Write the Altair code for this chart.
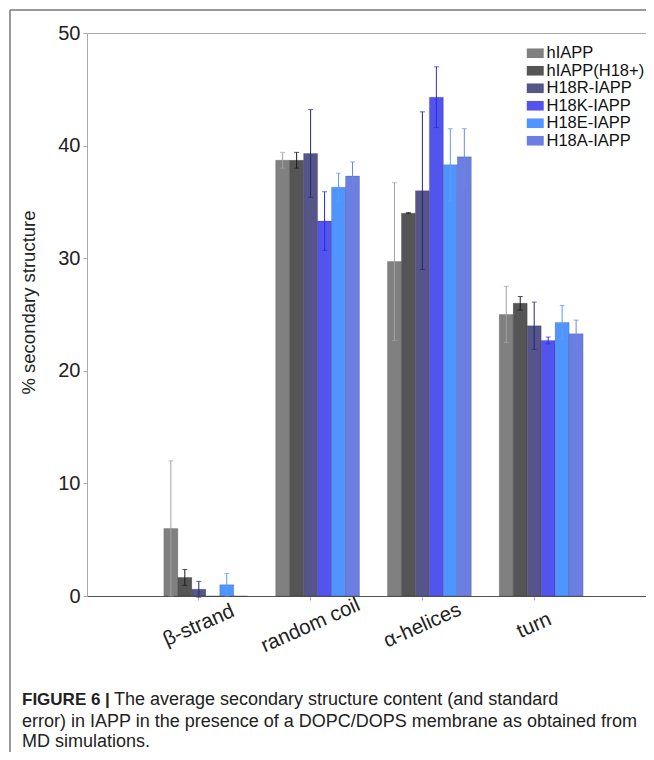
import altair as alt
import pandas as pd

# ---- data ----
categories = ["β-strand", "random coil", "α-helices", "turn"]
series = ["hIAPP", "hIAPP(H18+)", "H18R-IAPP", "H18K-IAPP", "H18E-IAPP", "H18A-IAPP"]

mean_hiapp = [6.0, 38.7, 29.7, 25.0]
mean_h18p = [1.65, 38.7, 34.0, 26.0]
mean_h18r = [0.6, 39.3, 36.0, 24.0]
mean_h18k = [0.0, 33.3, 44.3, 22.7]
mean_h18e = [1.0, 36.3, 38.3, 24.3]
mean_h18a = [0.0, 37.3, 39.0, 23.3]

err_hiapp = [6.0, 0.7, 7.0, 2.5]
err_h18p = [0.7, 0.7, 0.05, 0.6]
err_h18r = [0.7, 3.9, 7.0, 2.1]
err_h18k = [0.0, 2.6, 2.7, 0.3]
err_h18e = [1.0, 1.25, 3.2, 1.5]
err_h18a = [0.0, 1.25, 2.5, 1.2]

caption_bold = "FIGURE 6 |"
caption_1 = "The average secondary structure content (and standard"
caption_2 = "error) in IAPP in the presence of a DOPC/DOPS membrane as obtained from"
caption_3 = "MD simulations."

y_title = "% secondary structure"

# ---- styles ----
bar_colors = ["#808080", "#555555", "#55558a", "#5353ee", "#5094ff", "#6b7fe2"]
err_colors = ["#a0a0a0", "#1a1a1a", "#26267a", "#2b2bd8", "#5a9cff", "#6f86e6"]
FONT = "Liberation Sans"

means = [mean_hiapp, mean_h18p, mean_h18r, mean_h18k, mean_h18e, mean_h18a]
errs = [err_hiapp, err_h18p, err_h18r, err_h18k, err_h18e, err_h18a]
rows = []
for s, mv, ev in zip(series, means, errs):
    for c, m, e in zip(categories, mv, ev):
        rows.append({"category": c, "series": s, "value": m, "err": e})
df = pd.DataFrame(rows)

x_enc = alt.X(
    "category:N",
    scale=alt.Scale(domain=categories, paddingInner=0, paddingOuter=0.5),
    axis=alt.Axis(
        title=None, labelAngle=336, labelAlign="center", labelBaseline="middle",
        labelPadding=25, labelFontSize=20.5, labelFont=FONT, labelColor="#222",
        tickSize=4, tickColor="#aaa", domainColor="#555", domainWidth=1,
    ),
)
xo_enc = alt.XOffset(
    "series:N",
    scale=alt.Scale(domain=series, paddingInner=0, paddingOuter=1, align=0.75),
)
y_scale = alt.Scale(domain=[0, 50])
y_axis = alt.Axis(
    title=y_title, values=[0, 10, 20, 30, 40, 50], grid=False,
    labelFontSize=20, labelFont=FONT, labelColor="#222", labelPadding=3,
    tickSize=4, tickColor="#aaa", domainColor="#aaa",
    titleFontSize=18.5, titleFont=FONT, titleFontWeight="normal", titleColor="#222",
    titleX=-59, titleY=269, titleAngle=270, titleAlign="center", titleBaseline="middle",
)

base = alt.Chart(df)

bars = base.mark_bar(stroke="#000", strokeOpacity=0.2, strokeWidth=0.8).encode(
    x=x_enc,
    xOffset=xo_enc,
    y=alt.Y("value:Q", scale=y_scale, axis=y_axis, title=y_title),
    color=alt.Color(
        "series:N",
        scale=alt.Scale(domain=series, range=bar_colors),
        legend=alt.Legend(
            orient="none", legendX=440, legendY=12, title=None,
            symbolType="M-1.06,-0.6L1.06,-0.6L1.06,0.6L-1.06,0.6Z", symbolSize=256,
            symbolStrokeWidth=0, symbolOpacity=1,
            labelFontSize=16.5, labelFont=FONT, labelColor="#111", labelLimit=200,
            rowPadding=0.5, padding=0, labelOffset=3,
        ),
    ),
)

err_base = base.transform_filter("datum.err > 0").transform_calculate(
    lo="datum.value - datum.err", hi="datum.value + datum.err", s2="datum.series"
)
err_color = alt.Color("s2:N", scale=alt.Scale(domain=series, range=err_colors), legend=None)

rules = err_base.mark_rule(strokeWidth=1).encode(
    x=x_enc, xOffset=xo_enc,
    y=alt.Y("lo:Q", scale=y_scale, title=y_title), y2="hi:Q",
    color=err_color,
)
ticks_lo = err_base.mark_tick(orient="horizontal", size=5, thickness=1).encode(
    x=x_enc, xOffset=xo_enc, y=alt.Y("lo:Q", scale=y_scale, title=y_title), color=err_color,
)
ticks_hi = err_base.mark_tick(orient="horizontal", size=5, thickness=1).encode(
    x=x_enc, xOffset=xo_enc, y=alt.Y("hi:Q", scale=y_scale, title=y_title), color=err_color,
)

one = pd.DataFrame({"k": [0]})
frame_left = alt.Chart(one).mark_rule(color="#777", strokeWidth=1.5).encode(
    x=alt.value(-77), y=alt.value(-23), y2=alt.value(740)
)
frame_top = alt.Chart(one).mark_rule(color="#777", strokeWidth=1.5).encode(
    x=alt.value(-77), x2=alt.value(570), y=alt.value(-23)
)

def cap(text, xv, yv, bold=False, size=18):
    return alt.Chart(one).mark_text(
        align="left", baseline="alphabetic", font=FONT, fontSize=size,
        fontWeight="bold" if bold else "normal", color="#222",
    ).encode(x=alt.value(xv), y=alt.value(yv), text=alt.value(text))

captions = [
    cap(caption_bold, -65, 672, bold=True, size=17),
    cap(caption_1, 27, 672),
    cap(caption_2, -65, 694),
    cap(caption_3, -65, 714),
]

chart = alt.layer(
    bars, rules, ticks_lo, ticks_hi, frame_left, frame_top, *captions
).resolve_scale(color="independent").properties(
    width=559, height=563,
    autosize=alt.AutoSizeParams(type="none"),
    padding={"left": 79, "top": 25, "right": 0, "bottom": 156},
).configure_view(stroke="#aaa", strokeWidth=1)

chart.save("out.html", embed_options={"renderer": "svg", "actions": False})
